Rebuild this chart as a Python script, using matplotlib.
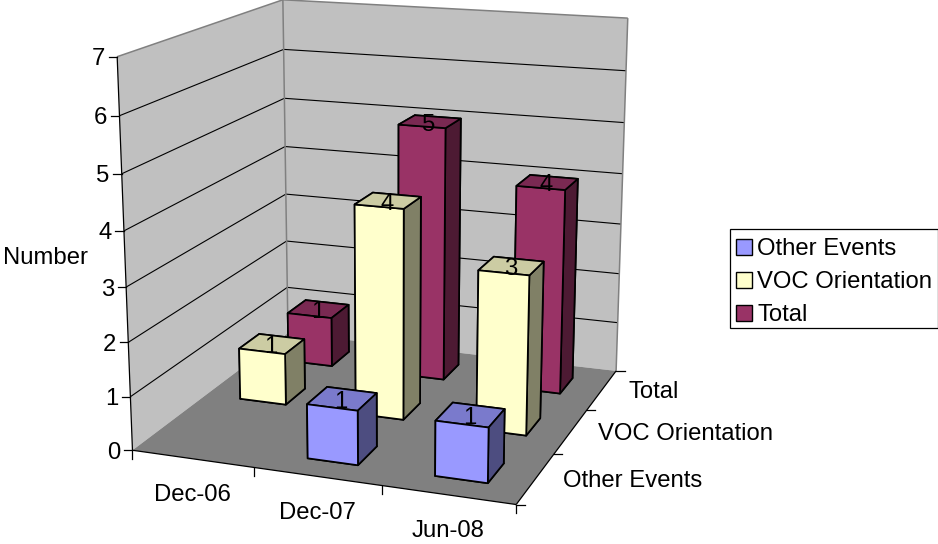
import numpy as np
import matplotlib
matplotlib.use("Agg")
import matplotlib.pyplot as plt
from matplotlib.colors import to_rgb
from matplotlib.lines import Line2D
from matplotlib.patches import Patch, Rectangle
from matplotlib.transforms import IdentityTransform
from mpl_toolkits.mplot3d.art3d import Poly3DCollection, Line3DCollection

plt.rcParams['font.family'] = ['Liberation Sans', 'DejaVu Sans']

# ---- data ----
categories = ['Dec-06', 'Dec-07', 'Jun-08']
series_names = ['Other Events', 'VOC Orientation', 'Total']
other_events = [np.nan, 1, 1]
voc_orientation = [1, 4, 3]
total = [1, 5, 4]
series_values = [other_events, voc_orientation, total]
series_colors = ['#9999FF', '#FFFFCC', '#993366']
z_ticks = [0, 1, 2, 3, 4, 5, 6, 7]

W, H = 938, 544
FS = 17.2
BAR_MARGIN = 0.3

# ---- camera calibration: reference frame locations (world x, y, z) -> pixel ----
camera_refs = [
    ((0, 0, 0), (132.7, 450)), ((0, 0, 7), (117.3, 56)), ((0, 3, 7), (282.7, 0)),
    ((0, 3, 0), (288, 333)), ((3, 3, 0), (616.7, 370.7)), ((3, 3, 7), (627.7, 17.7)),
    ((3, 0, 0), (516, 504)), ((1, 0, 0), (254, 468)), ((2, 0, 0), (382.3, 486.7)),
    ((1.3, .3, 0), (307.3, 458.3)), ((1.7, .3, 0), (358.3, 465)), ((1.3, .3, 1), (307.3, 405)),
    ((1.7, .3, 1), (358.3, 410)), ((1.7, .7, 1), (376.7, 393.3)), ((1.3, .7, 1), (327.3, 387.3)),
    ((2.3, .3, 0), (435, 476)), ((2.7, .3, 0), (487.7, 483.3)), ((2.3, .3, 1), (435, 421)),
    ((2.7, .3, 1), (489, 426.7)), ((2.7, .7, 1), (504.3, 409)), ((2.3, .7, 1), (452.7, 402.7)),
    ((.3, 1.3, 0), (239.3, 398.3)), ((.7, 1.3, 0), (285.7, 404.3)), ((.3, 1.3, 1), (239.3, 349)),
    ((.7, 1.3, 1), (285.7, 353.3)), ((.7, 1.7, 1), (304, 340)), ((.3, 1.7, 1), (260, 334)),
    ((.3, 2.3, 1), (287.7, 313.3)), ((.7, 2.3, 1), (331.7, 318.3)), ((.7, 2.7, 1), (348.3, 305)),
    ((.7, 2.3, 0), (331.7, 366)), ((.7, 2.7, 0), (348.3, 351.7)),
    ((1.3, 1.3, 4), (355, 204.3)), ((1.7, 1.3, 4), (404, 208.3)), ((1.7, 1.7, 4), (421, 196.7)),
    ((1.3, 1.7, 4), (372.7, 192.7)), ((1.7, 1.3, 0), (402.7, 419.3)), ((1.7, 1.7, 0), (420, 403.3)),
    ((1.3, 2.3, 5), (399, 125)), ((1.7, 2.3, 5), (445.7, 129)), ((1.7, 2.7, 5), (460.7, 118.3)),
    ((1.3, 2.7, 5), (414, 115)), ((1.7, 2.3, 0), (444, 379.3)), ((1.7, 2.7, 0), (459, 364)),
    ((2.3, 1.3, 3), (478.3, 270.7)), ((2.7, 1.3, 3), (529.3, 275.7)), ((2.7, 1.7, 3), (543.3, 261.7)),
    ((2.3, 1.7, 3), (494, 256.7)), ((2.7, 1.3, 0), (526, 435.7)), ((2.7, 1.7, 0), (540, 418.3)),
    ((2.3, 2.3, 4), (516, 186)), ((2.7, 2.3, 4), (565, 190)), ((2.7, 2.7, 4), (577.7, 179)),
    ((2.3, 2.7, 4), (530.7, 175)), ((2.7, 2.3, 0), (560, 393.3)), ((2.7, 2.7, 0), (572.7, 378.3)),
]


def fit_camera(refs):
    A, b = [], []
    for (X, Y, Z), (u, v) in refs:
        A.append([X, Y, Z, 1, 0, 0, 0, 0, -u * X, -u * Y, -u * Z]); b.append(u)
        A.append([0, 0, 0, 0, X, Y, Z, 1, -v * X, -v * Y, -v * Z]); b.append(v)
    p = np.linalg.lstsq(np.array(A, float), np.array(b, float), rcond=None)[0]
    return np.append(p, 1.0).reshape(3, 4)


P = fit_camera(camera_refs)


def project(x, y, z):
    u, v, w = P @ np.array([x, y, z, 1.0])
    return u / w, v / w


fig = plt.figure(figsize=(W / 100, H / 100), dpi=100, facecolor='white')
ax = fig.add_axes([0, 0, 1, 1], projection='3d')
ax.set_axis_off()
ax.patch.set_visible(False)
ax.computed_zorder = False
ax.set_xlim(0, 3); ax.set_ylim(0, 3); ax.set_zlim(0, 7)
ax.apply_aspect = lambda position=None: None  # keep the axes over the whole figure


def camera_proj():
    # world -> axes data coordinates, so that world points land on the fitted pixels
    A = ax.transData.inverted().get_matrix()
    screen = np.vstack([P[0], H * P[2] - P[1], P[2]])
    d = A @ screen
    depth = P[2] - np.array([0, 0, 0, 1.0])
    return np.vstack([d[0], d[1], depth, P[2]])


ax.get_proj = camera_proj

# ---- walls and floor ----
xmax, ymax, zmax = len(categories), len(series_names), z_ticks[-1]
floor = [(0, 0, 0), (xmax, 0, 0), (xmax, ymax, 0), (0, ymax, 0)]
left_wall = [(0, 0, 0), (0, ymax, 0), (0, ymax, zmax), (0, 0, zmax)]
back_wall = [(0, ymax, 0), (xmax, ymax, 0), (xmax, ymax, zmax), (0, ymax, zmax)]
ax.add_collection3d(Poly3DCollection([left_wall, back_wall], facecolors='#C0C0C0',
                                     edgecolors='none', zorder=0.5))
ax.add_collection3d(Poly3DCollection([floor], facecolors='#808080', edgecolors='none', zorder=0.6))

grid_segments = []
for z in z_ticks[1:-1]:
    grid_segments.append([(0, 0, z), (0, ymax, z)])
    grid_segments.append([(0, ymax, z), (xmax, ymax, z)])
ax.add_collection3d(Line3DCollection(grid_segments, colors='black', linewidths=0.8, zorder=5))

edge_segments = [
    [(0, 0, zmax), (0, ymax, zmax)], [(0, ymax, zmax), (xmax, ymax, zmax)],
    [(xmax, ymax, zmax), (xmax, ymax, 0)], [(0, ymax, 0), (0, ymax, zmax)],
]
ax.add_collection3d(Line3DCollection(edge_segments, colors='#808080', linewidths=1.1, zorder=5.1))

axis_segments = [
    [(0, 0, 0), (0, 0, zmax)], [(0, 0, 0), (xmax, 0, 0)], [(xmax, 0, 0), (xmax, ymax, 0)],
]
ax.add_collection3d(Line3DCollection(axis_segments, colors='black', linewidths=0.9, zorder=5.2))

# ---- bars, back row first ----
order = 10
bar_w = 1 - 2 * BAR_MARGIN
for s in reversed(range(len(series_names))):
    base = np.array(to_rgb(series_colors[s]))
    top, side = tuple(base * 0.8), tuple(base * 0.5)
    front = tuple(base)
    #        bottom  top  front  back  left  right
    faces = [side, top, front, side, side, side]
    for c, val in enumerate(series_values[s]):
        if np.isnan(val):
            continue
        ax.bar3d(c + BAR_MARGIN, s + BAR_MARGIN, 0, bar_w, bar_w, val, color=faces,
                 shade=False, edgecolor='black', linewidth=1.25, zorder=order)
        order += 1


# ---- ticks and labels (pixel offsets from the projected axis positions) ----
def tick(u, v, du, dv):
    fig.add_artist(Line2D([u, u + du], [H - v, H - v - dv], color='black', lw=0.9,
                          transform=IdentityTransform()))


def label(u, v, s, ha):
    fig.text(u, H - v, s, ha=ha, va='center', fontsize=FS, color='black',
             transform=IdentityTransform())


for s, values in enumerate(series_values):
    for c, val in enumerate(values):
        if not np.isnan(val):
            u, v = project(c + .5, s + .5, val)
            label(u - 1, v + 3, f'{val:g}', 'center')

for z in z_ticks:
    u, v = project(0, 0, z)
    tick(u, v, -8.5, 0)
    label(u - 12, v + 2.5, str(z), 'right')
for i in range(xmax + 1):
    u, v = project(i, 0, 0)
    tick(u, v, 0, 8.5)
for i, name in enumerate(categories):
    u, v = project(i + .5, 0, 0)
    label(u, v + 36.5, name, 'center')
for i in range(ymax + 1):
    u, v = project(xmax, i, 0)
    tick(u, v, 8.5, 0)
for i, name in enumerate(series_names):
    u, v = project(xmax, i + .5, 0)
    label(u + 27, v + 2, name, 'left')

label(3, 258, 'Number', 'left')

# ---- legend ----
fig.add_artist(Rectangle((729.5, H - 327.7), 208, 98.7, facecolor='white', edgecolor='black',
                         linewidth=0.9, transform=IdentityTransform(), zorder=2.5))
handles = [Patch(facecolor=c, edgecolor='black', linewidth=1.0) for c in series_colors]
leg = fig.legend(handles, series_names, loc='upper left',
                 bbox_to_anchor=(728.5 / W, 1 - 230.5 / H), borderaxespad=0,
                 fontsize=FS, frameon=False,
                 handlelength=0.66, handleheight=0.66, handletextpad=0.22,
                 labelspacing=0.46, borderpad=0.33)
leg.set_zorder(3)

fig.savefig('out.png', dpi=100)
